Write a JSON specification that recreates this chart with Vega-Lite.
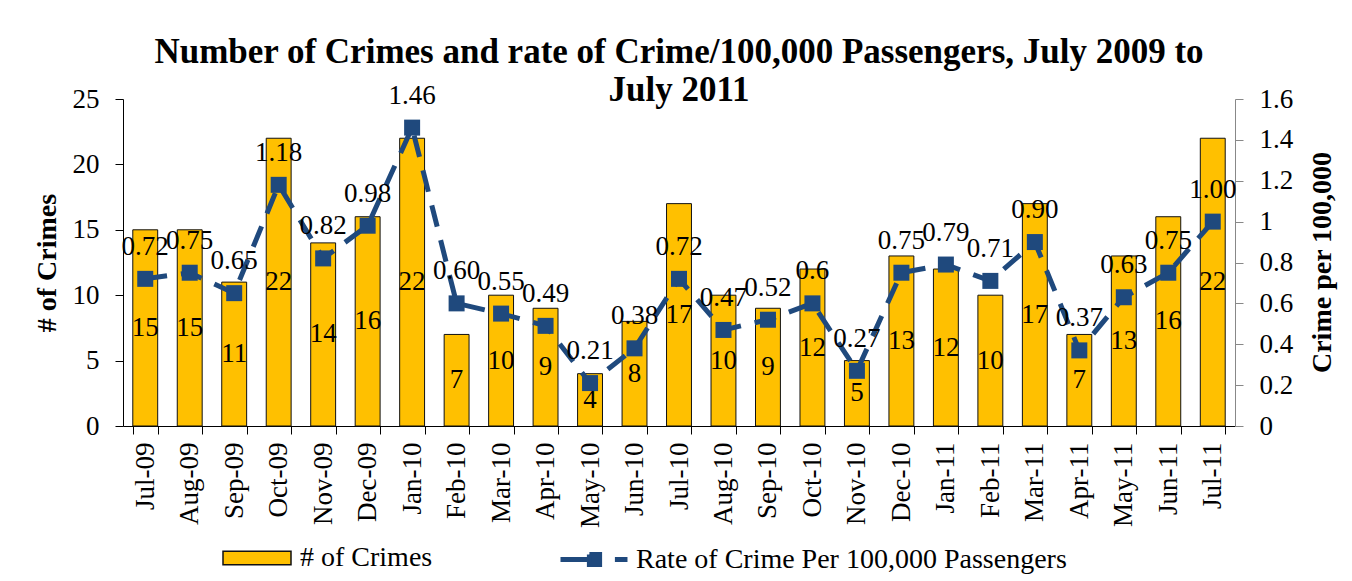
{
  "$schema": "https://vega.github.io/schema/vega-lite/v6.json",
  "width": 1112,
  "height": 327,
  "autosize": {"type": "none"},
  "padding": {"left": 123, "top": 99, "right": 117, "bottom": 155},
  "background": "white",
  "config": {
    "font": "Liberation Serif",
    "view": {"stroke": null},
    "axis": {"grid": false, "labelFont": "Liberation Serif", "labelFontSize": 27, "labelColor": "#000", "titleFont": "Liberation Serif", "titleFontSize": 28, "titleColor": "#000", "titleFontWeight": "bold"},
    "legend": {"labelFont": "Liberation Serif", "labelFontSize": 28, "labelColor": "#000", "padding": 0, "labelLimit": 800}
  },
  "title": {
    "text": ["Number of Crimes and rate of Crime/100,000 Passengers, July 2009 to", "July 2011"],
    "fontSize": 35, "fontWeight": "bold", "font": "Liberation Serif", "color": "#000",
    "anchor": "middle", "lineHeight": 38, "offset": -26
  },
  "data": {"values": [
    {"month": "Jul-09", "crimes": 15, "rate": 0.72, "rlabel": "0.72"},
    {"month": "Aug-09", "crimes": 15, "rate": 0.75, "rlabel": "0.75"},
    {"month": "Sep-09", "crimes": 11, "rate": 0.65, "rlabel": "0.65"},
    {"month": "Oct-09", "crimes": 22, "rate": 1.18, "rlabel": "1.18"},
    {"month": "Nov-09", "crimes": 14, "rate": 0.82, "rlabel": "0.82"},
    {"month": "Dec-09", "crimes": 16, "rate": 0.98, "rlabel": "0.98"},
    {"month": "Jan-10", "crimes": 22, "rate": 1.46, "rlabel": "1.46"},
    {"month": "Feb-10", "crimes": 7, "rate": 0.60, "rlabel": "0.60"},
    {"month": "Mar-10", "crimes": 10, "rate": 0.55, "rlabel": "0.55"},
    {"month": "Apr-10", "crimes": 9, "rate": 0.49, "rlabel": "0.49"},
    {"month": "May-10", "crimes": 4, "rate": 0.21, "rlabel": "0.21"},
    {"month": "Jun-10", "crimes": 8, "rate": 0.38, "rlabel": "0.38"},
    {"month": "Jul-10", "crimes": 17, "rate": 0.72, "rlabel": "0.72"},
    {"month": "Aug-10", "crimes": 10, "rate": 0.47, "rlabel": "0.47"},
    {"month": "Sep-10", "crimes": 9, "rate": 0.52, "rlabel": "0.52"},
    {"month": "Oct-10", "crimes": 12, "rate": 0.6, "rlabel": "0.6"},
    {"month": "Nov-10", "crimes": 5, "rate": 0.27, "rlabel": "0.27"},
    {"month": "Dec-10", "crimes": 13, "rate": 0.75, "rlabel": "0.75"},
    {"month": "Jan-11", "crimes": 12, "rate": 0.79, "rlabel": "0.79"},
    {"month": "Feb-11", "crimes": 10, "rate": 0.71, "rlabel": "0.71"},
    {"month": "Mar-11", "crimes": 17, "rate": 0.90, "rlabel": "0.90"},
    {"month": "Apr-11", "crimes": 7, "rate": 0.37, "rlabel": "0.37"},
    {"month": "May-11", "crimes": 13, "rate": 0.63, "rlabel": "0.63"},
    {"month": "Jun-11", "crimes": 16, "rate": 0.75, "rlabel": "0.75"},
    {"month": "Jul-11", "crimes": 22, "rate": 1.00, "rlabel": "1.00"}
  ]},
  "encoding": {
    "x": {
      "field": "month", "type": "ordinal", "sort": null,
      "scale": {"paddingInner": 0.44, "paddingOuter": 0.22},
      "axis": {"title": null, "labelAngle": -90, "labelAlign": "right", "labelBaseline": "middle", "tickBand": "extent", "tickSize": 8, "labelPadding": 8, "domainColor": "#000", "tickColor": "#000"}
    }
  },
  "layer": [
    {
      "mark": {"type": "bar", "stroke": "#111", "strokeWidth": 1},
      "encoding": {
        "y": {"field": "crimes", "type": "quantitative", "scale": {"domain": [0, 25]},
          "axis": {"title": "# of Crimes", "values": [0, 5, 10, 15, 20, 25], "tickSize": 8, "labelPadding": 16, "domainColor": "#000", "tickColor": "#000", "titlePadding": 11}},
        "fill": {"datum": "# of Crimes", "scale": {"range": ["#FFC000"]},
          "legend": {"title": null, "orient": "none", "legendX": 99, "legendY": 424, "symbolType": "M-1,-0.2H1V0.2H-1Z", "symbolSize": 4624, "labelOffset": 8,
            "encode": {"symbols": {"update": {"fill": {"value": "#FFC000"}, "stroke": {"value": "#222"}, "strokeWidth": {"value": 1}}}}}}
      }
    },
    {
      "transform": [{"calculate": "datum.crimes / 2", "as": "mid"}],
      "mark": {"type": "text", "fontSize": 27, "baseline": "middle", "color": "#000", "font": "Liberation Serif"},
      "encoding": {
        "y": {"field": "mid", "type": "quantitative", "scale": {"domain": [0, 25]}, "axis": null},
        "text": {"field": "crimes", "type": "quantitative"}
      }
    },
    {
      "encoding": {
        "y": {"field": "rate", "type": "quantitative", "scale": {"domain": [0, 1.6]},
          "axis": {"orient": "right", "title": "Crime per 100,000", "titleAngle": 270, "titleX": 87, "titleY": 163, "titleAlign": "center", "titleBaseline": "middle", "values": [0, 0.2, 0.4, 0.6, 0.8, 1, 1.2, 1.4, 1.6], "format": "~g", "tickSize": 8, "labelPadding": 16, "domainColor": "#888", "tickColor": "#888"}}
      },
      "layer": [
        {
          "mark": {"type": "line", "strokeWidth": 5, "strokeDash": [22, 14]},
          "encoding": {
            "stroke": {"datum": "Rate of Crime Per 100,000 Passengers", "scale": {"range": ["#1F497D"]},
              "legend": {"title": null, "orient": "none", "legendX": 435, "legendY": 424, "symbolType": "M-1,0H-0.2M-0.15,-0.15H0.15V0.15H-0.15ZM0.6,0H0.97", "symbolSize": 4624, "labelOffset": 5,
                "encode": {"symbols": {"update": {"fill": {"value": "#1F497D"}, "stroke": {"value": "#1F497D"}, "strokeWidth": {"value": 5}, "strokeDash": {"value": [1000, 0]}}}}}}
          }
        },
        {
          "mark": {"type": "point", "shape": "square", "filled": true, "size": 256, "color": "#1F497D", "opacity": 1}
        },
        {
          "mark": {"type": "text", "fontSize": 27, "dy": -32, "baseline": "middle", "color": "#000", "font": "Liberation Serif"},
          "encoding": {"text": {"field": "rlabel"}}
        }
      ]
    }
  ],
  "resolve": {"scale": {"y": "independent"}}
}
